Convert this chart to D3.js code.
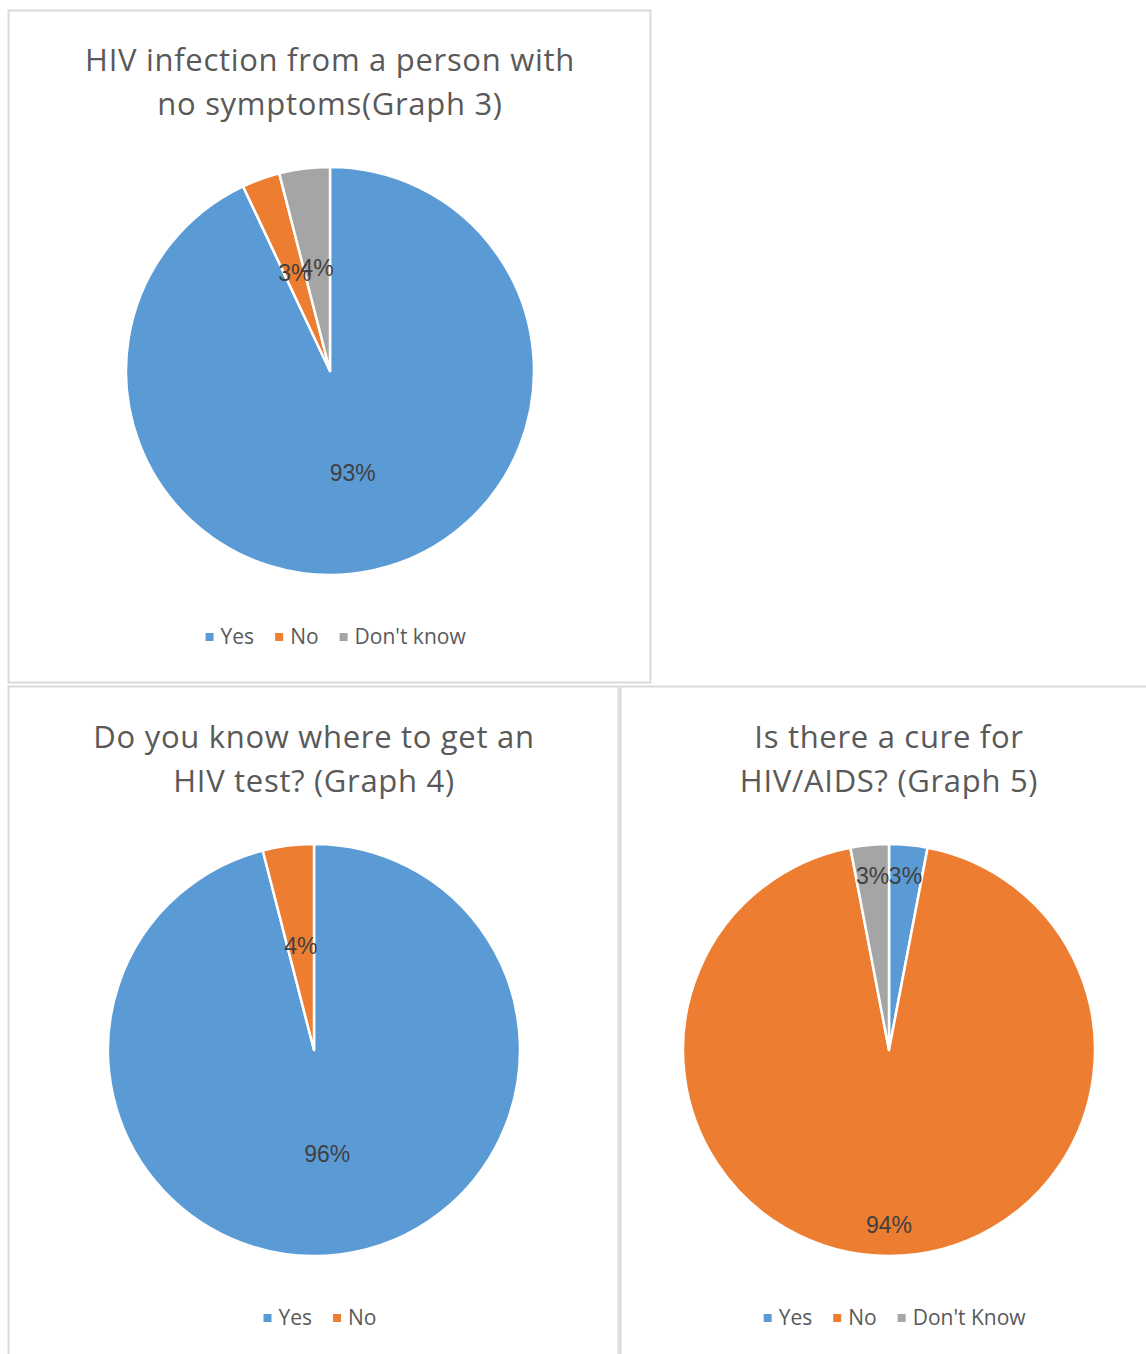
<!DOCTYPE html>
<html>
<head>
<meta charset="utf-8">
<script src="https://cdn.jsdelivr.net/npm/d3@7/dist/d3.min.js"></script>
<style>
  html, body { margin: 0; padding: 0; background: #fff; }
  svg { display: block; }
</style>
</head>
<body>
<svg id="chart" width="1146" height="1354"></svg>
<script>
// ---- Data ----
const graph3Categories = ["Yes", "No", "Don't know"];
const graph3Values = [93, 3, 4];
const graph3Title = ["HIV infection from a person with", "no symptoms(Graph 3)"];

const graph4Categories = ["Yes", "No"];
const graph4Values = [96, 4];
const graph4Title = ["Do you know where to get an", "HIV test? (Graph 4)"];

const graph5Categories = ["Yes", "No", "Don't Know"];
const graph5Values = [3, 94, 3];
const graph5Title = ["Is there a cure for", "HIV/AIDS? (Graph 5)"];

const sliceColors = ["#5B9BD5", "#ED7D31", "#A5A5A5"];

// ---- Layout ----
const charts = [
  { cats: graph3Categories, vals: graph3Values, title: graph3Title,
    box: [8.5, 10.5, 642, 672], cx: 330, cy: 371, r: 204, titleY: 60, legendY: 637, labelR: 0.51 },
  { cats: graph4Categories, vals: graph4Values, title: graph4Title,
    box: [8.5, 686.5, 610, 700], cx: 314, cy: 1050, r: 206, titleY: 737, legendY: 1318, labelR: 0.51 },
  { cats: graph5Categories, vals: graph5Values, title: graph5Title,
    box: [620.5, 686.5, 560, 700], cx: 889, cy: 1050, r: 206, titleY: 737, legendY: 1318, labelR: 0.85 }
];

const svg = d3.select("#chart");
const font = "'Open Sans', Lato, sans-serif";

charts.forEach(c => {
  const g = svg.append("g");
  // border
  g.append("rect")
    .attr("x", c.box[0]).attr("y", c.box[1])
    .attr("width", c.box[2]).attr("height", c.box[3])
    .attr("fill", "#fff").attr("stroke", "#d9d9d9").attr("stroke-width", 2);

  // title
  g.append("text")
    .attr("x", c.cx).attr("y", c.titleY)
    .attr("text-anchor", "middle")
    .attr("font-family", font).attr("font-size", 31)
    .attr("letter-spacing", 0.7)
    .attr("fill", "#595959")
    .selectAll("tspan").data(c.title).join("tspan")
    .attr("x", c.cx).attr("dy", (d, i) => i === 0 ? "0.35em" : 44)
    .text(d => d);

  const data = c.cats.map((k, i) => ({ cat: k, val: c.vals[i], color: sliceColors[i] }));
  const pie = d3.pie().value(d => d.val).sort(null);
  const arcs = pie(data);
  const arc = d3.arc().innerRadius(0).outerRadius(c.r);

  const pg = g.append("g").attr("transform", `translate(${c.cx},${c.cy})`);
  pg.selectAll("path").data(arcs).join("path")
    .attr("d", arc)
    .attr("fill", d => d.data.color)
    .attr("stroke", "#fff").attr("stroke-width", 2.5).attr("stroke-linejoin", "round");

  pg.selectAll("text").data(arcs).join("text")
    .attr("transform", d => {
      const a = (d.startAngle + d.endAngle) / 2;
      const rr = c.r * c.labelR;
      return `translate(${rr * Math.sin(a)},${-rr * Math.cos(a)})`;
    })
    .attr("text-anchor", "middle").attr("dy", "0.35em")
    .attr("font-family", "'Liberation Sans', Arial, sans-serif").attr("font-size", 23)
    .attr("fill", "#404040")
    .text(d => d.data.val + "%");

  // legend
  const lg = g.append("g");
  const items = lg.selectAll("g").data(data).join("g");
  items.append("rect").attr("width", 8).attr("height", 8).attr("y", -4)
    .attr("fill", d => d.color);
  items.append("text").attr("x", 15).attr("dy", "0.35em")
    .attr("font-family", font).attr("font-size", 21).attr("fill", "#595959")
    .text(d => d.cat);
  let x = 0;
  items.each(function() {
    const w = this.getBBox().width;
    d3.select(this).attr("transform", `translate(${x},0)`);
    x += w + 21;
  });
  const total = x - 21;
  lg.attr("transform", `translate(${c.cx + 6 - total / 2},${c.legendY})`);
});
</script>
</body>
</html>
